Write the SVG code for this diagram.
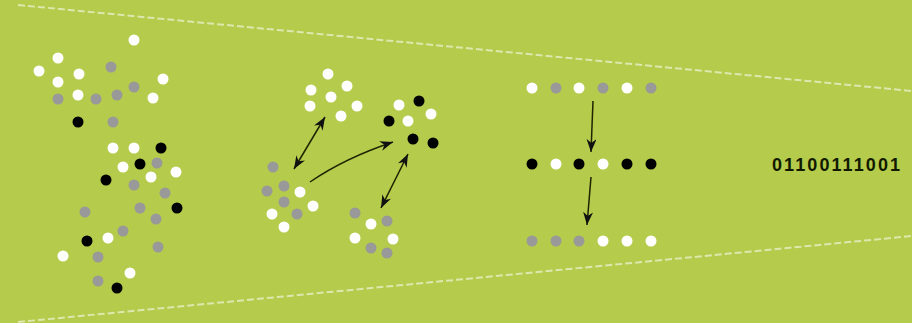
<svg xmlns="http://www.w3.org/2000/svg" width="912" height="323" viewBox="0 0 912 323">
<style>
.w{fill:#ffffff}
.g{fill:#999999}
.b{fill:#000000}
circle{r:5.5px}
.dash{stroke:#ffffff;stroke-opacity:0.55;stroke-width:2;stroke-dasharray:7 3;fill:none}
.arr{stroke:#1f2300;stroke-width:1.5;fill:none}
.bits{font-family:"Liberation Sans",Arial,sans-serif;font-size:18px;font-weight:bold;fill:#111a00}
</style>
<defs>
<marker id="ah" viewBox="0 -5 13 10" refX="13" refY="0" markerWidth="13" markerHeight="10" markerUnits="userSpaceOnUse" orient="auto-start-reverse">
<path d="M13,0 L0,-5 L4,0 L0,5 z" fill="#111"/>
</marker>
</defs>
<rect width="912" height="323" fill="#b5cb4b"/>
<g id="funnel">
<line class="dash" x1="18" y1="5" x2="912" y2="91"/>
<line class="dash" x1="18" y1="322" x2="912" y2="236"/>
</g>
<g id="cluster-left">
<circle class="w" cx="134" cy="40" r="5.5"/>
<circle class="w" cx="58" cy="58" r="5.5"/>
<circle class="w" cx="39" cy="71" r="5.5"/>
<circle class="w" cx="79" cy="74" r="5.5"/>
<circle class="g" cx="111" cy="67" r="5.5"/>
<circle class="w" cx="163" cy="79" r="5.5"/>
<circle class="w" cx="58" cy="82" r="5.5"/>
<circle class="g" cx="134" cy="87" r="5.5"/>
<circle class="w" cx="78" cy="95" r="5.5"/>
<circle class="g" cx="58" cy="99" r="5.5"/>
<circle class="g" cx="96" cy="99" r="5.5"/>
<circle class="g" cx="117" cy="95" r="5.5"/>
<circle class="w" cx="153" cy="98" r="5.5"/>
<circle class="b" cx="78" cy="122" r="5.5"/>
<circle class="g" cx="113" cy="122" r="5.5"/>
<circle class="w" cx="113" cy="148" r="5.5"/>
<circle class="w" cx="134" cy="148" r="5.5"/>
<circle class="b" cx="161" cy="148" r="5.5"/>
<circle class="w" cx="123" cy="167" r="5.5"/>
<circle class="b" cx="140" cy="164" r="5.5"/>
<circle class="g" cx="157" cy="163" r="5.5"/>
<circle class="w" cx="176" cy="172" r="5.5"/>
<circle class="b" cx="106" cy="180" r="5.5"/>
<circle class="w" cx="151" cy="177" r="5.5"/>
<circle class="g" cx="134" cy="185" r="5.5"/>
<circle class="g" cx="165" cy="193" r="5.5"/>
<circle class="b" cx="177" cy="208" r="5.5"/>
<circle class="g" cx="140" cy="208" r="5.5"/>
<circle class="g" cx="156" cy="219" r="5.5"/>
<circle class="g" cx="85" cy="212" r="5.5"/>
<circle class="g" cx="123" cy="231" r="5.5"/>
<circle class="b" cx="87" cy="241" r="5.5"/>
<circle class="w" cx="108" cy="238" r="5.5"/>
<circle class="g" cx="158" cy="247" r="5.5"/>
<circle class="w" cx="63" cy="256" r="5.5"/>
<circle class="g" cx="98" cy="257" r="5.5"/>
<circle class="w" cx="130" cy="273" r="5.5"/>
<circle class="g" cx="98" cy="281" r="5.5"/>
<circle class="b" cx="117" cy="288" r="5.5"/>
</g>
<g id="cluster-white">
<circle class="w" cx="328" cy="74" r="5.5"/>
<circle class="w" cx="311" cy="90" r="5.5"/>
<circle class="w" cx="347" cy="86" r="5.5"/>
<circle class="w" cx="331" cy="97" r="5.5"/>
<circle class="w" cx="310" cy="106" r="5.5"/>
<circle class="w" cx="357" cy="106" r="5.5"/>
<circle class="w" cx="341" cy="116" r="5.5"/>
</g>
<g id="cluster-black">
<circle class="b" cx="419" cy="101" r="5.5"/>
<circle class="w" cx="399" cy="105" r="5.5"/>
<circle class="w" cx="431" cy="114" r="5.5"/>
<circle class="b" cx="389" cy="121" r="5.5"/>
<circle class="w" cx="408" cy="121" r="5.5"/>
<circle class="b" cx="413" cy="139" r="5.5"/>
<circle class="b" cx="433" cy="143" r="5.5"/>
</g>
<g id="cluster-gray">
<circle class="g" cx="273" cy="167" r="5.5"/>
<circle class="g" cx="284" cy="186" r="5.5"/>
<circle class="g" cx="267" cy="191" r="5.5"/>
<circle class="w" cx="300" cy="192" r="5.5"/>
<circle class="g" cx="284" cy="202" r="5.5"/>
<circle class="w" cx="313" cy="206" r="5.5"/>
<circle class="w" cx="272" cy="214" r="5.5"/>
<circle class="g" cx="297" cy="214" r="5.5"/>
<circle class="w" cx="284" cy="227" r="5.5"/>
</g>
<g id="cluster-bottom">
<circle class="g" cx="355" cy="213" r="5.5"/>
<circle class="w" cx="371" cy="224" r="5.5"/>
<circle class="g" cx="387" cy="221" r="5.5"/>
<circle class="w" cx="355" cy="238" r="5.5"/>
<circle class="w" cx="393" cy="239" r="5.5"/>
<circle class="g" cx="371" cy="248" r="5.5"/>
<circle class="g" cx="387" cy="253" r="5.5"/>
</g>
<g id="row-top">
<circle class="w" cx="532" cy="88" r="5.5"/>
<circle class="g" cx="556" cy="88" r="5.5"/>
<circle class="w" cx="579" cy="88" r="5.5"/>
<circle class="g" cx="603" cy="88" r="5.5"/>
<circle class="w" cx="627" cy="88" r="5.5"/>
<circle class="g" cx="651" cy="88" r="5.5"/>
</g>
<g id="row-middle">
<circle class="b" cx="532" cy="164" r="5.5"/>
<circle class="w" cx="556" cy="164" r="5.5"/>
<circle class="b" cx="579" cy="164" r="5.5"/>
<circle class="w" cx="603" cy="164" r="5.5"/>
<circle class="b" cx="627" cy="164" r="5.5"/>
<circle class="b" cx="651" cy="164" r="5.5"/>
</g>
<g id="row-bottom">
<circle class="g" cx="532" cy="241" r="5.5"/>
<circle class="g" cx="556" cy="241" r="5.5"/>
<circle class="g" cx="579" cy="241" r="5.5"/>
<circle class="w" cx="603" cy="241" r="5.5"/>
<circle class="w" cx="627" cy="241" r="5.5"/>
<circle class="w" cx="651" cy="241" r="5.5"/>
</g>
<g id="bits">
<text class="bits" x="772" y="171" textLength="128" lengthAdjust="spacing">01100111001</text>
</g>
<g id="connectors">
<line class="arr" x1="294" y1="169" x2="325" y2="117" marker-start="url(#ah)" marker-end="url(#ah)"/>
<path class="arr" d="M310,182 Q345,158 393,142" marker-end="url(#ah)"/>
<line class="arr" x1="408" y1="154" x2="381" y2="208" marker-start="url(#ah)" marker-end="url(#ah)"/>
<line class="arr" x1="593" y1="101" x2="591" y2="152" marker-end="url(#ah)"/>
<line class="arr" x1="591" y1="177" x2="587" y2="225" marker-end="url(#ah)"/>
</g>
</svg>
